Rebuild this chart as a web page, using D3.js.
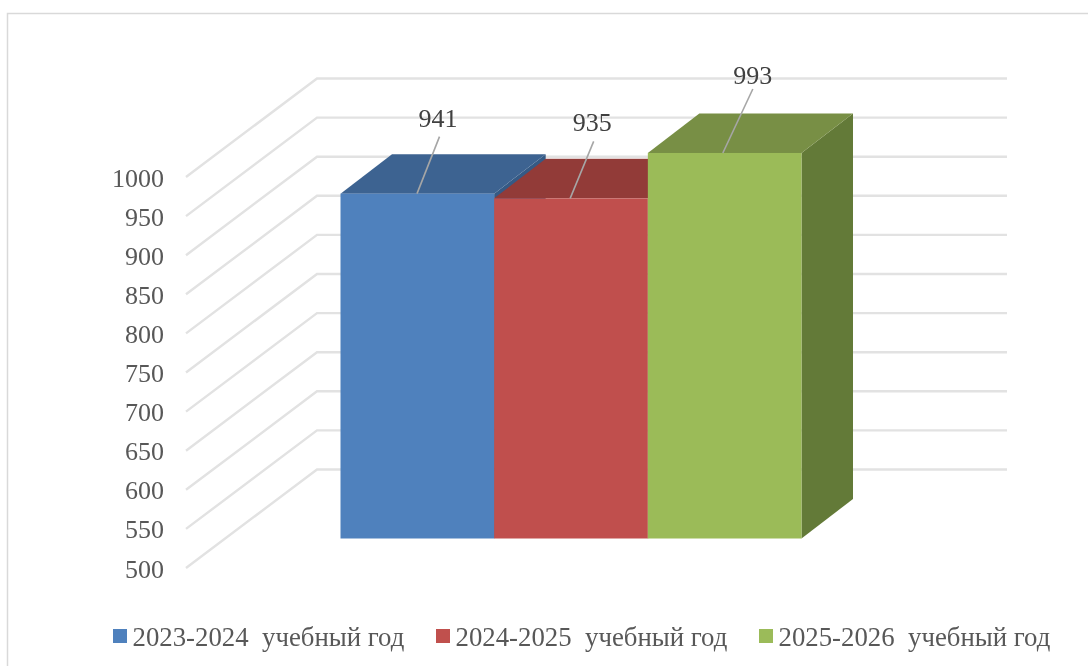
<!DOCTYPE html>
<html><head><meta charset="utf-8">
<script src="https://cdn.jsdelivr.net/npm/d3@7/dist/d3.min.js"></script>
<style>html,body{margin:0;padding:0;background:#fff;overflow:hidden}
text{font-family:"Liberation Serif",serif;white-space:pre}</style></head>
<body><svg id="c" width="1088" height="666"></svg>
<script>
const categories=["2023-2024  учебный год","2024-2025  учебный год","2025-2026  учебный год"];
const values=[941,935,993];
const colors=["#4F81BD","#C0504D","#9BBB59"];
const topColors=["#3E6491","#923A38","#788F45"];
const sideColors=["#365A85","#843331","#647A37"];
const ticks=[500,550,600,650,700,750,800,850,900,950,1000];

const svg=d3.select("#c");
const defs=svg.append("defs");
defs.append("filter").attr("id","soft")
  .attr("x","-5%").attr("y","-5%").attr("width","110%").attr("height","110%")
  .append("feGaussianBlur").attr("stdDeviation",0.6);
defs.append("filter").attr("id","softText")
  .attr("x","-5%").attr("y","-20%").attr("width","110%").attr("height","140%")
  .append("feGaussianBlur").attr("stdDeviation",0.35);

svg.append("path").attr("d","M7.5,666V13.5H1088").attr("fill","none").attr("stroke","#d9d9d9").attr("stroke-width",1.5);

const y=d3.scaleLinear().domain([500,1000]).range([568,177]);
const wall={dx:131,dy:-98.5}, rightX=1007;
const x=d3.scaleBand().domain(categories).range([340.5,801.5]).padding(0);
const front={dx:0,dy:-29.5}, depth={dx:51.5,dy:-39.5};
const frontY=v=>y(v)+front.dy;

const g=svg.append("g").attr("filter","url(#soft)");
g.append("g").selectAll("path").data(ticks).join("path")
  .attr("d",t=>`M186,${y(t)}L${186+wall.dx},${y(t)+wall.dy}H${rightX}`)
  .attr("fill","none").attr("stroke","#e2e2e2").attr("stroke-width",2.4);

const poly=pts=>"M"+pts.map(p=>p.join(",")).join("L")+"Z";
categories.forEach((c,i)=>{
  const x0=x(c),x1=x0+x.bandwidth(),yt=frontY(values[i]),yb=frontY(500);
  g.append("path").attr("fill",sideColors[i])
    .attr("d",poly([[x1,yt],[x1+depth.dx,yt+depth.dy],[x1+depth.dx,yb+depth.dy],[x1,yb]]));
  g.append("path").attr("fill",topColors[i])
    .attr("d",poly([[x0,yt],[x0+depth.dx,yt+depth.dy],[x1+depth.dx,yt+depth.dy],[x1,yt]]));
  g.append("rect").attr("x",x0).attr("y",yt).attr("width",x.bandwidth()).attr("height",yb-yt).attr("fill",colors[i]);
});

const labelOff=[{lx:99,ly:-57,tx:97.5,ty:-67},{lx:99.5,ly:-57,tx:98,ty:-67},{lx:105,ly:-64,tx:105,ty:-69}];
const leaderBase=[76.5,76,75];
const txt=svg.append("g").attr("filter","url(#softText)");
categories.forEach((c,i)=>{
  const x0=x(c),yt=frontY(values[i]),b=x0+leaderBase[i],o=labelOff[i];
  g.append("line").attr("x1",b).attr("y1",yt).attr("x2",x0+o.lx).attr("y2",yt+o.ly)
    .attr("stroke","#a6a6a6").attr("stroke-width",1.6);
  txt.append("text").attr("x",x0+o.tx).attr("y",yt+o.ty).attr("text-anchor","middle")
    .attr("font-size",26).attr("fill","#404040").text(values[i]);
});

txt.append("g").selectAll("text").data(ticks).join("text")
  .attr("x",164).attr("y",t=>y(t)+9.5).attr("text-anchor","end")
  .attr("font-size",26).attr("fill","#595959").text(t=>t);

const legendX=[113,436,759];
categories.forEach((c,i)=>{
  svg.append("rect").attr("x",legendX[i]).attr("y",629).attr("width",14).attr("height",14).attr("fill",colors[i]);
  txt.append("text").attr("x",legendX[i]+19.5).attr("y",646).attr("font-size",26.8).attr("fill","#595959").text(c);
});
</script></body></html>
